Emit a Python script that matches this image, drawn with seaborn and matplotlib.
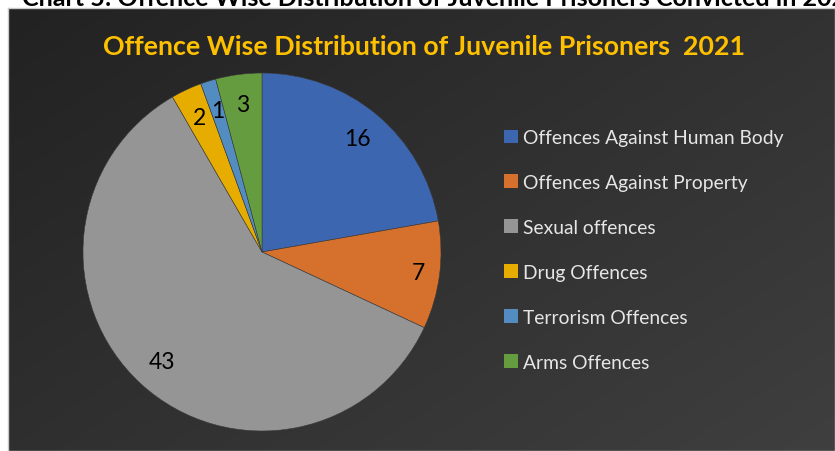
import numpy as np
import matplotlib
matplotlib.use("Agg")
import matplotlib.pyplot as plt
from matplotlib.patches import Patch
import seaborn as sns

# Offence categories and number of convicted juvenile prisoners, 2021
categories = [
    "Offences Against Human Body",
    "Offences Against Property",
    "Sexual offences",
    "Drug Offences",
    "Terrorism Offences",
    "Arms Offences",
]
counts = [16, 7, 43, 2, 1, 3]
slice_colors = ["#3d66b0", "#d5712c", "#959595", "#e6ad00", "#528cc0", "#659c40"]

title = "Offence Wise Distribution of Juvenile Prisoners  2021"
caption = "Chart 5: Offence Wise Distribution of Juvenile Prisoners Convicted in 2021"

sns.set_theme(style="dark")
plt.rcParams["font.family"] = ["Lato", "DejaVu Sans"]

W, H = 835, 452
fig = plt.figure(figsize=(W / 100, H / 100), dpi=100, facecolor="white")

# dark panel with a diagonal gradient
bg = fig.add_axes([8 / W, 0, 1 - 8 / W, 1 - 9 / H])
yy, xx = np.mgrid[0:1:200j, 0:1:300j]
grad = (xx * 0.55 + yy * 0.45)
bg.imshow(grad, cmap=matplotlib.colors.LinearSegmentedColormap.from_list(
    "panel", ["#222222", "#3f3f3f"]), aspect="auto", origin="upper",
    extent=[0, 1, 0, 1], interpolation="bicubic")
bg.set_xticks([])
bg.set_yticks([])
for s in bg.spines.values():
    s.set_color("#c8c8c8")
    s.set_linewidth(1.0)

# caption running off the top edge
fig.text(22 / W, 1 - 6.5 / H, caption, fontsize=18, fontweight="bold",
         color="black", ha="left", va="baseline", zorder=0)

# pie
cx, cy, r = 262, 253, 179
ax = fig.add_axes([(cx - r) / W, (H - cy - r) / H, 2 * r / W, 2 * r / H])
ax.set_facecolor("none")
total = sum(counts)
wedges, _, autotexts = ax.pie(
    counts, colors=slice_colors, startangle=90, counterclock=False,
    radius=1.0, autopct=lambda p: f"{round(p * total / 100)}",
    pctdistance=0.83,
    wedgeprops=dict(edgecolor="#3a3a3a", linewidth=0.4),
    textprops=dict(fontsize=16.5, color="black"),
)
autotexts[1].set_position((autotexts[1].get_position()[0] * 0.88 / 0.83,
                           autotexts[1].get_position()[1] * 0.88 / 0.83))
ax.set_xlim(-1, 1)
ax.set_ylim(-1, 1)
ax.set_aspect("equal")
ax.axis("off")

fig.text(0.508, 1 - 47 / H, title, fontsize=19.3, fontweight="bold",
         color="#ffc000", ha="center", va="center")

handles = [Patch(facecolor=c, edgecolor="none") for c in slice_colors]
fig.legend(handles, categories, loc="center left",
           bbox_to_anchor=(504 / W, 1 - 251 / H), frameon=False,
           fontsize=13.9, labelcolor="#e6e6e6", handlelength=0.7,
           handleheight=0.7, handletextpad=0.3, labelspacing=1.45,
           borderpad=0, borderaxespad=0)

fig.savefig("out.png", dpi=100, facecolor="white")
